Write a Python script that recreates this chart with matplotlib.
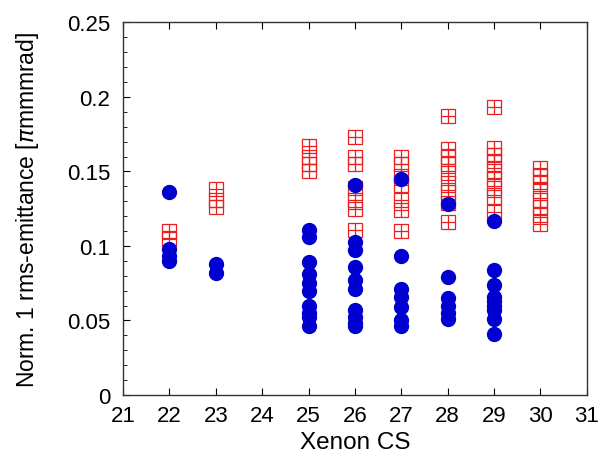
import matplotlib.pyplot as plt
from matplotlib.ticker import MultipleLocator

plt.rcParams['font.family'] = ['Liberation Sans', 'DejaVu Sans']

# Xenon CS setting vs normalized rms emittance
circ_x = [22, 22, 22, 22,
          23, 23,
          25, 25, 25, 25, 25, 25, 25, 25, 25, 25,
          26, 26, 26, 26, 26, 26, 26, 26, 26, 26,
          27, 27, 27, 27, 27, 27, 27,
          28, 28, 28, 28, 28, 28,
          29, 29, 29, 29, 29, 29, 29, 29, 29]
circ_y = [0.136, 0.098, 0.093, 0.090,
          0.088, 0.082,
          0.111, 0.106, 0.089, 0.081, 0.075, 0.070, 0.060, 0.055, 0.052, 0.046,
          0.141, 0.103, 0.097, 0.086, 0.077, 0.071, 0.057, 0.052, 0.048, 0.046,
          0.145, 0.093, 0.071, 0.066, 0.059, 0.050, 0.046,
          0.128, 0.079, 0.065, 0.060, 0.055, 0.051,
          0.117, 0.084, 0.074, 0.066, 0.063, 0.060, 0.057, 0.051, 0.041]

sq_x = [22, 22,
        23, 23, 23,
        25, 25, 25, 25,
        26, 26, 26, 26, 26, 26, 26,
        27, 27, 27, 27, 27, 27, 27,
        28, 28, 28, 28, 28, 28, 28, 28, 28,
        29, 29, 29, 29, 29, 29, 29, 29, 29,
        30, 30, 30, 30, 30, 30, 30, 30]
sq_y = [0.110, 0.105,
        0.138, 0.131, 0.126,
        0.167, 0.160, 0.155, 0.150,
        0.173, 0.160, 0.155, 0.139, 0.131, 0.125, 0.111,
        0.160, 0.155, 0.147, 0.141, 0.131, 0.124, 0.110,
        0.187, 0.165, 0.160, 0.155, 0.149, 0.142, 0.136, 0.129, 0.116,
        0.193, 0.166, 0.161, 0.157, 0.150, 0.145, 0.139, 0.133, 0.123,
        0.152, 0.147, 0.143, 0.137, 0.131, 0.126, 0.121, 0.115]

y_ticks = [0, 0.05, 0.1, 0.15, 0.2, 0.25]
y_labels = ['0', '0.05', '0.1', '0.15', '0.2', '0.25']

fig = plt.figure(figsize=(6, 4.64), dpi=100)
ax = fig.add_axes([0.205, 0.1466, 0.773, 0.8028])

ax.plot(sq_x, sq_y, 's', ms=9.5, mfc='none', mec='#e82020', mew=0.9, linestyle='none')
ax.plot(sq_x, sq_y, '+', ms=9.5, mec='#e82020', mew=0.9, linestyle='none')
ax.plot(circ_x, circ_y, 'o', ms=10, color='#0000d0', linestyle='none')

ax.set_xlim(21, 31)
ax.set_ylim(0, 0.25)
ax.xaxis.set_major_locator(MultipleLocator(1))
ax.set_yticks(y_ticks)
ax.set_yticklabels(y_labels)
ax.yaxis.set_minor_locator(MultipleLocator(0.01))
ax.tick_params(which='both', direction='in', top=True, right=False, labelsize=16)
ax.tick_params(axis='x', which='major', length=5, pad=7)
ax.tick_params(axis='y', which='major', length=5, pad=9)
ax.tick_params(which='minor', length=3)
for s in ax.spines.values():
    s.set_linewidth(1.0)
    s.set_color('#333333')

ax.set_xlabel('Xenon CS', fontsize=17.5, labelpad=4)
ax.set_ylabel('Norm. 1 rms-emittance [$\\pi$mmmrad]', fontsize=16.5, labelpad=19)

fig.savefig('out.png', dpi=100)
